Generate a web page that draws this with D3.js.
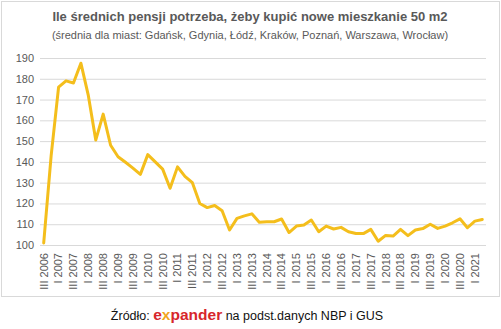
<!DOCTYPE html>
<html>
<head>
<meta charset="utf-8">
<script src="https://cdn.jsdelivr.net/npm/d3@7"></script>
<style>
  html, body { margin: 0; padding: 0; background: #fff; }
  svg { display: block; font-family: "Liberation Sans", Arial, sans-serif; }
</style>
</head>
<body>
<svg id="chart" width="501" height="329"></svg>
<script>
// ---- data ----
const title = "Ile średnich pensji potrzeba, żeby kupić nowe mieszkanie 50 m2";
const subtitle = "(średnia dla miast: Gdańsk, Gdynia, Łódź, Kraków, Poznań, Warszawa, Wrocław)";
const quarters = (function () {
  const roman = ["I", "II", "III", "IV"];
  const out = [];
  for (let y = 2006; y <= 2021; y++) {
    for (let q = 0; q < 4; q++) {
      if (y === 2006 && q < 2) continue;
      if (y === 2021 && q > 1) continue;
      out.push(roman[q] + " " + y);
    }
  }
  return out;
})();
const values = [
  101, 143, 176, 179, 178, 187.5, 172, 150.5, 163, 148,
  142.5, 139.8, 137, 134, 143.5, 140, 136.5, 127.3, 137.6, 133,
  130, 120, 118, 119, 116.5, 107.2, 112.8, 114, 115, 111,
  111.2, 111.2, 112.5, 106, 109.1, 109.6, 112, 106.4, 109.1, 107.7,
  108.5, 106.4, 105.5, 105.5, 107.5, 101.8, 104.6, 104.3, 107.5, 104.5,
  107.2, 107.9, 110, 108, 109.1, 110.7, 112.6, 108.3, 111.5, 112.3
];
const yTicks = [100, 110, 120, 130, 140, 150, 160, 170, 180, 190];
const labelTicks = quarters.filter((d, i) => i % 2 === 0);

// ---- layout ----
const svg = d3.select("#chart");
const W = 501, H = 329;
const plot = { left: 40, right: 486, top: 58, bottom: 245 };

// outer frame
svg.append("rect")
  .attr("x", 1.5).attr("y", 1.5)
  .attr("width", W - 3).attr("height", 295)
  .attr("fill", "#fff").attr("stroke", "#d9d9d9").attr("stroke-width", 1);

// titles
svg.append("text")
  .attr("x", 250).attr("y", 21)
  .attr("text-anchor", "middle")
  .attr("font-size", 13).attr("font-weight", "bold")
  .attr("fill", "#595959")
  .text(title);
svg.append("text")
  .attr("x", 250).attr("y", 39)
  .attr("text-anchor", "middle")
  .attr("font-size", 11)
  .attr("fill", "#595959")
  .text(subtitle);

// scales
const x = d3.scaleBand().domain(quarters).range([plot.left, plot.right]).padding(0);
const cx = d => x(d) + x.bandwidth() / 2;
const y = d3.scaleLinear().domain([100, 190]).range([plot.bottom, plot.top]);

// y axis with gridlines
const yAxis = svg.append("g")
  .attr("transform", `translate(${plot.left},0)`)
  .call(d3.axisLeft(y).tickValues(yTicks).tickSize(-(plot.right - plot.left)).tickPadding(6).tickFormat(d3.format("d")));
yAxis.select(".domain").remove();
yAxis.selectAll(".tick line").attr("stroke", "#d9d9d9").attr("stroke-width", 1);
yAxis.selectAll(".tick text")
  .attr("fill", "#595959").attr("font-size", 11)
  .attr("font-family", "Liberation Sans, Arial, sans-serif");

// x axis labels
const xAxis = svg.append("g")
  .attr("transform", `translate(0,${plot.bottom})`)
  .call(d3.axisBottom(x).tickValues(labelTicks).tickSize(0).tickPadding(0));
xAxis.select(".domain").remove();
xAxis.selectAll(".tick text")
  .attr("fill", "#595959").attr("font-size", 11)
  .attr("font-family", "Liberation Sans, Arial, sans-serif")
  .attr("text-anchor", "end")
  .attr("transform", "translate(0,8) rotate(-90)")
  .attr("x", 0).attr("y", 0).attr("dy", "0.35em");

// line
const line = d3.line()
  .x((d, i) => cx(quarters[i]))
  .y(d => y(d));
svg.append("path")
  .datum(values)
  .attr("fill", "none")
  .attr("stroke", "#f4be1c")
  .attr("stroke-width", 3)
  .attr("stroke-linejoin", "round")
  .attr("stroke-linecap", "round")
  .attr("d", line);

// footer
const foot = svg.append("text")
  .attr("x", 247).attr("y", 320)
  .attr("text-anchor", "middle")
  .attr("font-size", 12.5)
  .attr("fill", "#111");
foot.append("tspan").text("Źródło: ");
foot.append("tspan").attr("font-size", 15.5).attr("font-weight", "bold").attr("fill", "#d7262b").text("e");
foot.append("tspan").attr("font-size", 15.5).attr("font-weight", "bold").attr("fill", "#f2a51b").text("x");
foot.append("tspan").attr("font-size", 15.5).attr("font-weight", "bold").attr("fill", "#d7262b").text("pander");
foot.append("tspan").text(" na podst.danych NBP i GUS");
</script>
</body>
</html>
